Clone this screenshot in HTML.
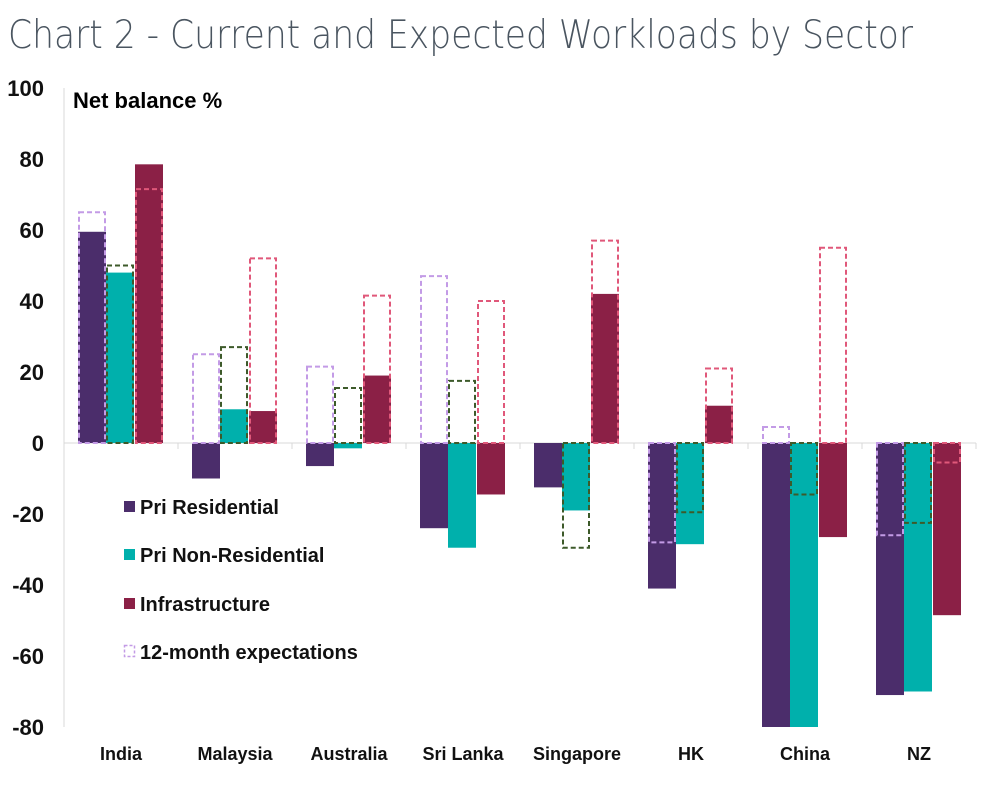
<!DOCTYPE html>
<html><head><meta charset="utf-8"><style>
body{margin:0;background:#fff;width:1004px;height:798px;overflow:hidden}
svg text{font-family:"Liberation Sans",Arial,sans-serif}
</style></head><body>
<svg id="chart" width="1004" height="798" viewBox="0 0 1004 798" xmlns="http://www.w3.org/2000/svg">
<text x="8" y="48" font-size="39" fill="#4a5560" style="font-family:'DejaVu Sans','Liberation Sans',sans-serif;font-weight:200" textLength="905" lengthAdjust="spacingAndGlyphs">Chart 2 - Current and Expected Workloads by Sector</text>
<text x="73" y="108" font-size="22" font-weight="bold" fill="#000">Net balance %</text>
<g id="yaxis"></g><g id="bars"></g><g id="xaxis"></g>
<g font-size="20" font-weight="bold" fill="#111">
<rect x="124" y="501" width="11" height="11" fill="#4b2d6b"/>
<text x="140" y="514">Pri Residential</text>
<rect x="124" y="549" width="11" height="11" fill="#00b0ac"/>
<text x="140" y="562">Pri Non-Residential</text>
<rect x="124" y="598" width="11" height="11" fill="#8b2046"/>
<text x="140" y="611">Infrastructure</text>
<rect x="124.5" y="645.5" width="10" height="11" fill="none" stroke="#c39be6" stroke-width="1.5" stroke-dasharray="3,2"/>
<text x="140" y="659">12-month expectations</text>
</g>
</svg>
<script>
const categories=["India","Malaysia","Australia","Sri Lanka","Singapore","HK","China","NZ"];
const residential=[59.5,-10,-6.5,-24,-12.5,-41,-80,-71];
const nonResidential=[48,9.5,-1.5,-29.5,-19,-28.5,-80,-70];
const infrastructure=[78.5,9,19,-14.5,42,10.5,-26.5,-48.5];
const expResidential=[65,25,21.5,47,0,-28,4.5,-26];
const expNonResidential=[50,27,15.5,17.5,-29.5,-19.5,-14.5,-22.5];
const expInfrastructure=[71.5,52,41.5,40,57,21,55,-5.5];
const yTicks=[100,80,60,40,20,0,-20,-40,-60,-80];

const NS="http://www.w3.org/2000/svg";
const x0=64,groupW=114,barW=28,padL=14;
const y=v=>443-v*3.55;
function mk(tag,attrs,parent){const e=document.createElementNS(NS,tag);for(const k in attrs)e.setAttribute(k,attrs[k]);parent.appendChild(e);return e;}
const ya=document.getElementById('yaxis'),ba=document.getElementById('bars'),xa=document.getElementById('xaxis');
const axis=mk('line',{x1:x0,x2:x0,y1:y(100),y2:y(-80),stroke:'#d9d9d9','stroke-width':1},ya);


yTicks.forEach(t=>{
 const tx=mk('text',{x:44,y:y(t)+8,'font-size':22,'font-weight':'bold','text-anchor':'end',fill:'#111'},ya);
 tx.textContent=t;
 
 
});
const zl=mk('line',{x1:x0,x2:x0+groupW*categories.length,y1:y(0),y2:y(0),stroke:'#d9d9d9','stroke-width':1},ya);


for(let i=0;i<=categories.length;i++){
 const tk=mk('line',{x1:x0+groupW*i,x2:x0+groupW*i,y1:y(0),y2:y(0)+6,stroke:'#d9d9d9'},ya);
 
 
}
const series=[[residential,'#4b2d6b',expResidential,'#c39be6','residential'],[nonResidential,'#00b0ac',expNonResidential,'#3d5a2a','nonresidential'],[infrastructure,'#8b2046',expInfrastructure,'#e0587a','infrastructure']];
categories.forEach((c,i)=>{
 series.forEach((s,j)=>{
  const bx=x0+groupW*i+padL+j*barW+(j==2?1:0);
  const v=s[0][i];
  const r=mk('rect',{x:bx,y:Math.min(y(v),y(0)),width:barW,height:Math.abs(y(v)-y(0)),fill:s[1]},ba);
  
  
 });
});
categories.forEach((c,i)=>{
 series.forEach((s,j)=>{
  const bx=x0+groupW*i+padL+j*barW+(j==2?1:0);
  const e=s[2][i];
  if(e===0)return;
  const r=mk('rect',{x:bx+1,y:Math.min(y(e),y(0)),width:barW-2,height:Math.abs(y(e)-y(0)),fill:'none',stroke:s[3],'stroke-width':2,'stroke-dasharray':'5,3'},ba);
  
  
 });
 const t=mk('text',{x:x0+groupW*(i+0.5),y:760,'font-size':18,'font-weight':'bold','text-anchor':'middle',fill:'#111'},xa);
 t.textContent=c;
 
 
});
</script>
</body></html>
